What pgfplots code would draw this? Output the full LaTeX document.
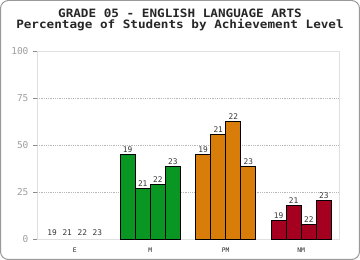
\documentclass[border=0pt]{standalone}
\usepackage{pgfplots}
\pgfplotsset{compat=1.18}
\usepackage{fontspec}
\setmainfont{DejaVu Sans}
\setmonofont{DejaVu Sans Mono}
\newfontfamily\titlefont{DejaVu Sans Mono}[FakeStretch=1.1]
\definecolor{cgreen}{RGB}{10,150,35}
\definecolor{corange}{RGB}{216,125,10}
\definecolor{cred}{RGB}{165,0,32}
\begin{document}
\begin{tikzpicture}
\useasboundingbox (0,0) rectangle (360pt,260pt);
\draw[color=black!40, line width=1pt, rounded corners=8pt] (0.5pt,0.5pt) rectangle (359.5pt,259.5pt);
\node[anchor=base, inner sep=0pt, font=\titlefont\bfseries\fontsize{11.5}{12}\selectfont, text=black!85] at (180pt,242.5pt) {GRADE 05 - ENGLISH LANGUAGE ARTS};
\node[anchor=base, inner sep=0pt, font=\titlefont\bfseries\fontsize{11.5}{12}\selectfont, text=black!85] at (180pt,231.8pt) {Percentage of Students by Achievement Level};
\begin{axis}[
  at={(37pt,21pt)}, anchor=south west,
  width=302pt, height=188pt, scale only axis,
  xmin=-0.5, xmax=3.5, ymin=0, ymax=100,
  enlargelimits=false, clip=false,
  axis line style={draw=black!12},
  ytick={0,100},
  extra y ticks={25,50,75},
  extra y tick style={grid=major},
  grid style={dash pattern=on 0.6pt off 1.2pt, draw=black!28, line width=0.5pt},
  xtick={0,1,2,3},
  xticklabels={E,M,PM,NM},
  x tick style={draw=none},
  y tick style={draw=black!45},
  ytick pos=left,
  tick align=outside,
  major tick length=4pt,
  yticklabel style={font=\ttfamily\fontsize{9.5}{10}\selectfont, text=black!38, xshift=-1pt},
  /pgf/number format/assume math mode=true,
  xticklabel style={font=\ttfamily\fontsize{6.3}{7}\selectfont, text=black!85, yshift=-1.5pt},
  ybar, bar width=15pt, bar shift=0pt,
  point meta=explicit symbolic,
  nodes near coords,
  every node near coord/.append style={font=\ttfamily\fontsize{7.8}{8}\selectfont, text=black!80, anchor=south, inner sep=1.5pt},
]
% E (all zero)
\addplot[draw=none, fill=none, every node near coord/.append style={yshift=2pt}] coordinates {(-0.3,0)[19] (-0.1,0)[21] (0.1,0)[22] (0.3,0)[23]};
% M
\addplot[draw=black, line width=0.8pt, fill=cgreen] coordinates {(0.7,45)[19] (0.9,27)[21] (1.1,29)[22] (1.3,38.7)[23]};
% PM
\addplot[draw=black, line width=0.8pt, fill=corange] coordinates {(1.7,45)[19] (1.9,55.8)[21] (2.1,62.6)[22] (2.3,38.8)[23]};
% NM
\addplot[draw=black, line width=0.8pt, fill=cred] coordinates {(2.7,9.9)[19] (2.9,17.9)[21] (3.1,7.8)[22] (3.3,20.6)[23]};
\end{axis}
\end{tikzpicture}
\end{document}
